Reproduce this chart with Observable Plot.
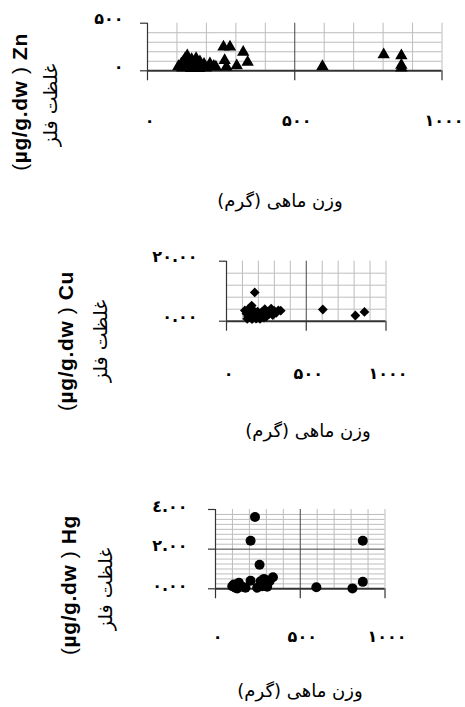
<!DOCTYPE html>
<html>
<head>
<meta charset="utf-8">
<script src="https://cdn.jsdelivr.net/npm/d3@7"></script>
<script src="https://cdn.jsdelivr.net/npm/@observablehq/plot@0.6"></script>
<style>
  html, body { margin: 0; padding: 0; background: #fff; }
  #root { position: relative; width: 465px; height: 707px; overflow: hidden; font-family: "DejaVu Sans", sans-serif; }
  .panel { position: absolute; left: 0; }
  .panel svg { overflow: visible; }
  .panel svg g[aria-label$="tick label"] text { letter-spacing: 5px; font-weight: bold; }
  .t { position: absolute; white-space: nowrap; color: #000; }
  .xt { direction: rtl; font-size: 18px; transform: translate(-50%, -50%); }
  .yt { font-size: 21px; font-weight: bold; letter-spacing: 0.6px; font-family: Arial, "Liberation Sans", sans-serif; transform: translate(-50%, -50%) rotate(-90deg); }
  .yt .p { font-weight: normal; }
  .ys { direction: rtl; font-size: 19px; transform: translate(-50%, -50%) rotate(-90deg); }
</style>
</head>
<body>
<div id="root"></div>
<script>
// ---- Data ----
// Zn panel: fish weight (g) vs metal concentration
const znWeight = [105,115,122,128,135,140,145,150,155,160,165,170,178,185,192,212,225,232,262,268,258,280,303,325,340,594,802,862,862,862,118,148,175,198];
const znValue  = [45,75,100,130,160,95,60,120,40,80,130,55,95,40,70,75,50,40,110,40,250,250,55,195,90,45,170,160,60,30,30,25,25,30];
// Cu panel
const cuWeight = [115,125,135,140,150,158,165,172,180,177,190,195,205,215,220,230,240,250,258,268,280,290,300,312,325,340,604,808,865,130,160,185,210,235];
const cuValue  = [3.6,2.5,1.5,4.2,2.8,5.2,1.2,3.5,2.2,9.6,1.0,3.2,2.0,1.3,3.0,2.2,4.0,1.5,3.2,2.5,4.2,2.0,3.4,2.8,3.6,3.5,3.9,1.9,3.1,0.8,0.7,0.9,0.8,1.2];
// Hg panel
const hgWeight = [233,207,260,339,99,118,138,158,177,207,246,266,286,305,319,108,128,276,595,808,869,869];
const hgValue  = [3.62,2.42,1.21,0.58,0.13,0.05,0.30,0.10,0.05,0.41,0.05,0.38,0.50,0.10,0.38,0.22,0.02,0.13,0.08,0.02,2.42,0.35];

// Axis tick labels
const xTicks = [0, 500, 1000];
const znYTicks = [0, 500];
const cuYTicks = [0, 20];
const hgYTicks = [0, 2, 4];
const xTitle = "وزن ماهی (گرم)";
const ySub = "غلظت فلز";
const metals = ["Zn", "Cu", "Hg"];

const digits = "۰۱۲۳٤۵۶۷۸۹";
const fa = s => String(s).replace(/\d/g, d => digits[d]);
const fmtInt = d => fa(d);
const fmt2 = d => fa(d.toFixed(2));

const root = document.getElementById("root");

function panel({top, height, mL, mR, mT, mB, yMax, yStep, yMajor, yTicks, yFmt, xW, yV, symbol, r, yPad, yDy, xPad}) {
  const minorX = d3.range(100, 1001, 100).filter(d => d !== 500);
  const minorY = d3.range(yStep, yMax + yStep / 2, yStep).filter(d => !yMajor.includes(+d.toFixed(6)));
  const data = xW.map((w, i) => ({w, v: yV[i]}));
  const chart = Plot.plot({
    width: 465, height,
    marginLeft: mL, marginRight: mR, marginTop: mT, marginBottom: mB,
    x: {domain: [0, 1000], label: null, axis: null},
    y: {domain: [0, yMax], label: null, axis: null},
    style: {fontFamily: "DejaVu Sans, sans-serif", fontSize: "16px", background: "transparent", overflow: "visible"},
    marks: [
      Plot.ruleX(minorX, {x: d => d, y1: 0, y2: yMax, stroke: "#bdbdbd", strokeWidth: 1}),
      Plot.ruleY(minorY, {y: d => d, x1: 0, x2: 1000, stroke: "#bdbdbd", strokeWidth: 1}),
      Plot.ruleX([500], {y1: 0, y2: yMax, stroke: "#444", strokeWidth: 1}),
      Plot.ruleY(yMajor.filter(d => d > 0 && d < yMax), {x1: 0, x2: 1000, stroke: "#444", strokeWidth: 1}),
      Plot.axisX(xTicks, {tickSize: 10, tickFormat: () => "", stroke: "#333", strokeWidth: 1.2}),
      Plot.axisY(yTicks, {tickSize: 7, tickFormat: () => "", stroke: "#333", strokeWidth: 1.2}),
      Plot.ruleX([0], {y1: 0, y2: yMax, stroke: "#333", strokeWidth: 1.2}),
      Plot.ruleY([0], {x1: 0, x2: 1000, stroke: "#333", strokeWidth: 2}),
      Plot.axisX(xTicks, {tickSize: 0, tickPadding: xPad, dx: 2, tickFormat: fmtInt, fontSize: 16, fill: "#000"}),
      Plot.axisY(yTicks, {tickSize: 0, tickPadding: yPad, dy: yDy, tickFormat: yFmt, fontSize: 16, fill: "#000"}),
      Plot.dot(data, {x: "w", y: "v", symbol, r, fill: "#000", stroke: "none"})
    ]
  });
  const div = document.createElement("div");
  div.className = "panel";
  div.style.top = top + "px";
  div.appendChild(chart);
  root.appendChild(div);
}

panel({top: 0, height: 230, mL: 147, mR: 23.5, mT: 22.7, mB: 159.7, yMax: 500, yStep: 100, yMajor: [0, 500], yTicks: znYTicks, yFmt: fmtInt,
  xW: znWeight, yV: znValue, symbol: "triangle", r: 4.6, yPad: 24, yDy: -4, xPad: 44});
panel({top: 230, height: 230, mL: 226, mR: 79.5, mT: 30.7, mB: 139.3, yMax: 20, yStep: 4, yMajor: [0, 20], yTicks: cuYTicks, yFmt: fmt2,
  xW: cuWeight, yV: cuValue, symbol: "diamond2", r: 4.4, yPad: 29, yDy: -4, xPad: 46});
panel({top: 460, height: 247, mL: 215, mR: 80.5, mT: 49, mB: 118.7, yMax: 4, yStep: 0.25, yMajor: [0, 2, 4], yTicks: hgYTicks, yFmt: fmt2,
  xW: hgWeight, yV: hgValue, symbol: "circle", r: 5, yPad: 28, yDy: -3, xPad: 42});

// Titles (HTML text)
function addText(cls, html, x, y) {
  const el = document.createElement("div");
  el.className = "t " + cls;
  el.style.left = x + "px";
  el.style.top = y + "px";
  el.innerHTML = html;
  root.appendChild(el);
}
const yTitle = m => `<span class="p">(</span>µg/g.dw <span class="p">)</span> ${m}`;
addText("xt", xTitle, 280, 200);
addText("yt", yTitle(metals[0]), 20, 102);
addText("ys", ySub, 50, 105);

addText("xt", xTitle, 308, 430);
addText("yt", yTitle(metals[1]), 66, 341);
addText("ys", ySub, 100, 341);

addText("xt", xTitle, 300, 690);
addText("yt", yTitle(metals[2]), 69, 585);
addText("ys", ySub, 105, 589);
</script>
</body>
</html>
